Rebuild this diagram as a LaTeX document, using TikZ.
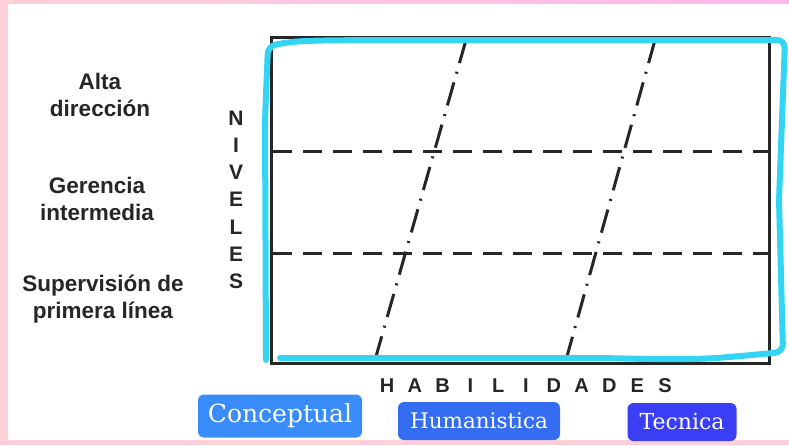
\documentclass[tikz,border=0pt]{standalone}
\usepackage{fontspec}
\setmainfont{Liberation Sans}
\newfontfamily\buttonfont{DejaVu Serif}
\usetikzlibrary{positioning}

\definecolor{pinkBack}{RGB}{255,208,216}
\definecolor{pinkTop}{RGB}{255,184,236}
\definecolor{markerCyan}{RGB}{52,212,244}
\definecolor{conceptBlue}{RGB}{58,140,250}
\definecolor{humanBlue}{RGB}{52,108,242}
\definecolor{tecnicaBlue}{RGB}{58,62,244}

\begin{document}
\begin{tikzpicture}[
        x=1pt, y=-1pt,
        levelText/.style={
            font=\bfseries\fontsize{22.5}{27}\selectfont,
            align=center,
            text=black!85
        },
        axisLetter/.style={
            font=\bfseries\fontsize{21}{21}\selectfont,
            inner sep=0pt,
            text=black!85
        },
        levelLine/.style={
            line width=3pt,
            draw=black!85,
            dash pattern=on 19pt off 11pt
        },
        skillLine/.style={
            line width=3pt,
            draw=black!85,
            dash pattern=on 24pt off 9pt on 2pt off 9pt
        },
        skillButton/.style={
            rounded corners=6pt,
            text=white,
            font=\buttonfont\fontsize{25}{25}\selectfont,
            minimum height=38pt,
            inner sep=0pt
        }
    ]

        % Background frame
        \useasboundingbox (0,0) rectangle (789,445);
        \fill[pinkBack] (0,0) rectangle (789,445);
        \shade[left color=pinkBack, right color=pinkTop] (0,0) rectangle (789,4);
        \fill[white] (8,4) rectangle (789,440);

        % Grid corners
        \coordinate (nw) at (271,37);
        \coordinate (ne) at (769,37);
        \coordinate (se) at (769,363);
        \coordinate (sw) at (271,363);

        % Outer box
        \draw[line width=3pt, black!85] (nw) -- (ne) -- (se) -- (sw) -- cycle;

        % Level separators
        \coordinate (midA) at (273,151);
        \coordinate (midB) at (273,253);
        \draw[levelLine] (midA) -- (midA -| se);
        \draw[levelLine] (midB) -- (midB -| se);

        % Skill separators
        \coordinate (skillTopA) at (466,40);
        \coordinate (skillBotA) at (375,360);
        \coordinate (skillTopB) at (655,40);
        \coordinate (skillBotB) at (566,360);
        \draw[skillLine] (skillTopA) -- (skillBotA);
        \draw[skillLine] (skillTopB) -- (skillBotB);

        % Hand-drawn highlight
        \draw[markerCyan, line width=6pt, line cap=round, rounded corners=8pt]
            (266,360) -- (265,120) -- (268,46)
            .. controls (300,40) .. (500,40)
            -- (785,40) -- (779,200) -- (783,352)
            .. controls (700,360) .. (600,358)
            -- (280,358);

        % Level labels
        \node[levelText] (alta) at (100,95) {Alta\\dirección};
        \node[levelText] (gerencia) at (97,199) {Gerencia\\intermedia};
        \node[levelText] (supervision) at (103,299) {Supervisión de\\primera línea};

        % Vertical axis title
        \foreach \letter [count=\i] in {N,I,V,E,L,E,S}
        {
            \node[axisLetter] (niveles\i) at (236,{118+(\i-1)*27.2}) {\letter};
        }

        % Horizontal axis title
        \foreach \letter [count=\i] in {H,A,B,I,L,I,D,A,D,E,S}
        {
            \node[axisLetter, font=\bfseries\fontsize{20}{20}\selectfont]
                (habilidades\i) at ({387+(\i-1)*27.8},386) {\letter};
        }

        % Skill buttons
        \node[skillButton, fill=conceptBlue, minimum width=164pt, minimum height=43pt]
            (conceptual) at (280,416) {Conceptual};
        \node[skillButton, fill=humanBlue, minimum width=162pt,
            font=\buttonfont\fontsize{21.5}{21.5}\selectfont]
            (humanistica) at (479,421) {Humanistica};
        \node[skillButton, fill=tecnicaBlue, minimum width=109pt,
            font=\buttonfont\fontsize{22}{22}\selectfont]
            (tecnica) at (682,422) {Tecnica};

    \end{tikzpicture}
\end{document}
